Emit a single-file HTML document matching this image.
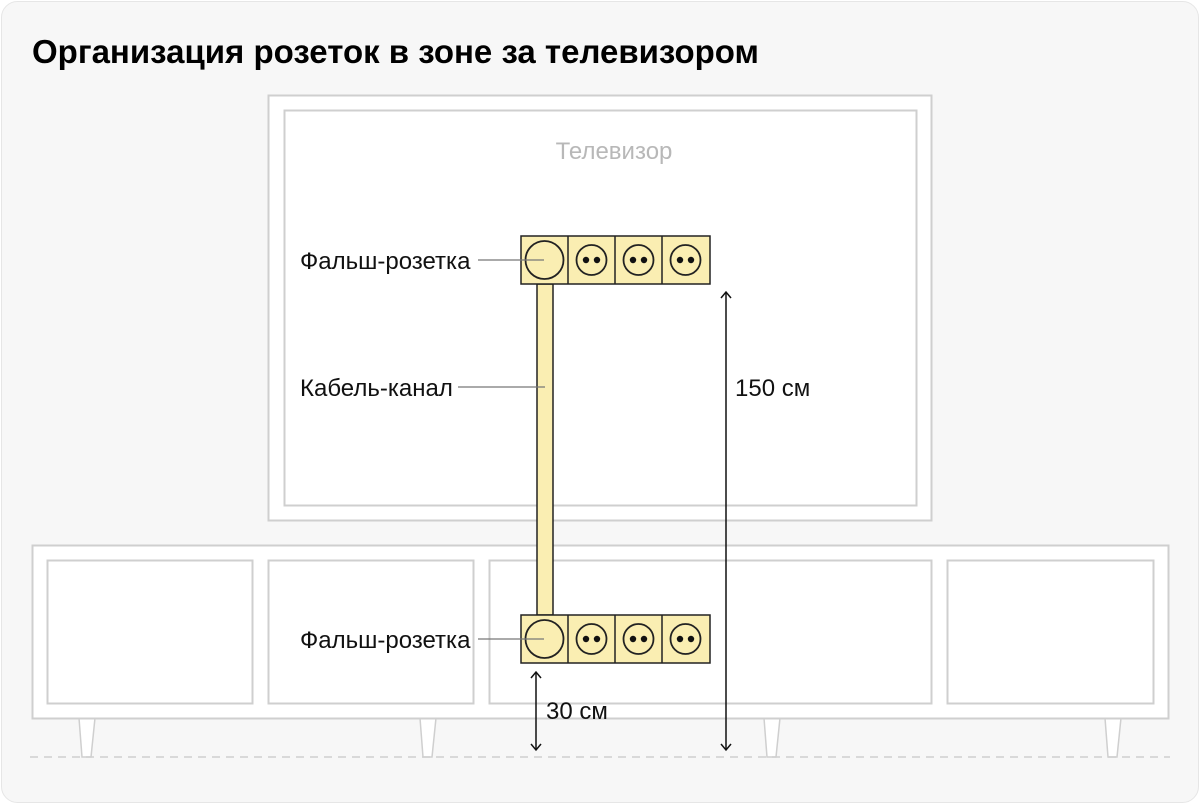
<!DOCTYPE html>
<html><head><meta charset="utf-8"><style>
html,body{margin:0;padding:0;background:#fff;}
svg{display:block;font-family:"Liberation Sans",sans-serif;}
</style></head><body>
<svg width="1200" height="805" viewBox="0 0 1200 805" xmlns="http://www.w3.org/2000/svg">
<rect x="1.5" y="1.5" width="1197" height="801" rx="16" fill="#f7f7f7" stroke="#e6e6e6"/>
<text x="32" y="63" font-size="33" font-weight="bold" fill="#000">Организация розеток в зоне за телевизором</text>
<!-- TV -->
<rect x="268.5" y="95.5" width="663" height="425" fill="#fff" stroke="#cfcfcf" stroke-width="2"/>
<rect x="284.5" y="110.5" width="632" height="395" fill="#fff" stroke="#cfcfcf" stroke-width="2"/>
<text x="614" y="159" font-size="24" fill="#b8b8b8" text-anchor="middle">Телевизор</text>
<!-- legs -->
<g fill="#fff" stroke="#cfcfcf" stroke-width="1.5">
<polygon points="79,718 95,718 91,757 82,757"/>
<polygon points="420,718 436,718 432,757 423,757"/>
<polygon points="764,718 780,718 776,757 767,757"/>
<polygon points="1105,718 1121,718 1117,757 1108,757"/>
</g>
<line x1="30" y1="757" x2="1170" y2="757" stroke="#cfcfcf" stroke-width="1.5" stroke-dasharray="8,6"/>
<!-- cabinet -->
<rect x="32.5" y="545.5" width="1136" height="173" fill="#fff" stroke="#cfcfcf" stroke-width="2"/>
<g fill="#fff" stroke="#cfcfcf" stroke-width="2">
<rect x="47.5" y="560.5" width="205" height="143"/>
<rect x="268.5" y="560.5" width="205" height="143"/>
<rect x="489.5" y="560.5" width="442" height="143"/>
<rect x="947.5" y="560.5" width="206" height="143"/>
</g>
<!-- cable channel -->
<rect x="537" y="284" width="16" height="331" fill="#faeeb2" stroke="#222" stroke-width="1.5"/>
<!-- strips -->
<g stroke="#222" stroke-width="1.5" fill="#faeeb2">
<rect x="521" y="236" width="189" height="48"/>
<line x1="568" y1="236" x2="568" y2="284"/><line x1="615" y1="236" x2="615" y2="284"/><line x1="662" y1="236" x2="662" y2="284"/>
<circle cx="544.5" cy="260" r="19" stroke-width="1.8"/>
<circle cx="591.5" cy="260" r="15" stroke-width="1.8"/><circle cx="638.5" cy="260" r="15" stroke-width="1.8"/><circle cx="685.5" cy="260" r="15" stroke-width="1.8"/>
</g>
<g fill="#111"><circle cx="586" cy="260" r="3.2"/><circle cx="597" cy="260" r="3.2"/><circle cx="633" cy="260" r="3.2"/><circle cx="644" cy="260" r="3.2"/><circle cx="680" cy="260" r="3.2"/><circle cx="691" cy="260" r="3.2"/></g>
<g transform="translate(0,379)">
<g stroke="#222" stroke-width="1.5" fill="#faeeb2">
<rect x="521" y="236" width="189" height="48"/>
<line x1="568" y1="236" x2="568" y2="284"/><line x1="615" y1="236" x2="615" y2="284"/><line x1="662" y1="236" x2="662" y2="284"/>
<circle cx="544.5" cy="260" r="19" stroke-width="1.8"/>
<circle cx="591.5" cy="260" r="15" stroke-width="1.8"/><circle cx="638.5" cy="260" r="15" stroke-width="1.8"/><circle cx="685.5" cy="260" r="15" stroke-width="1.8"/>
</g>
<g fill="#111"><circle cx="586" cy="260" r="3.2"/><circle cx="597" cy="260" r="3.2"/><circle cx="633" cy="260" r="3.2"/><circle cx="644" cy="260" r="3.2"/><circle cx="680" cy="260" r="3.2"/><circle cx="691" cy="260" r="3.2"/></g>
</g>
<!-- leaders -->
<g stroke="#777" stroke-width="1.2">
<line x1="478" y1="260" x2="544" y2="260"/>
<line x1="458" y1="387" x2="545" y2="387"/>
<line x1="478" y1="639" x2="544" y2="639"/>
</g>
<g font-size="24" fill="#111">
<text x="300" y="269">Фальш-розетка</text>
<text x="300" y="396">Кабель-канал</text>
<text x="300" y="648">Фальш-розетка</text>
<text x="735" y="396">150 см</text>
<text x="546" y="719">30 см</text>
</g>
<!-- dims -->
<g stroke="#111" stroke-width="1.5" fill="none">
<line x1="726" y1="292" x2="726" y2="750"/>
<polyline points="721,298 726,292 731,298"/><polyline points="721,744 726,750 731,744"/>
<line x1="536" y1="672" x2="536" y2="750"/>
<polyline points="531,678 536,672 541,678"/><polyline points="531,744 536,750 541,744"/>
</g>
</svg>
</body></html>
